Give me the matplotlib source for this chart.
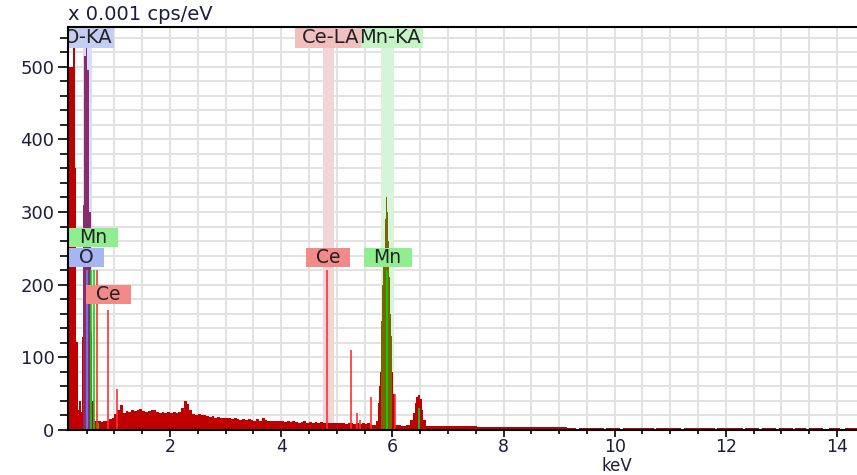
import numpy as np
import matplotlib
matplotlib.use("Agg")
import matplotlib.pyplot as plt
from matplotlib.ticker import MultipleLocator
from matplotlib.patches import Rectangle, Polygon

# spectrum, x 0.001 cps/eV, bins given by left edge in keV
low_kev = [0.17, 0.23, 0.25, 0.29, 0.31, 0.34, 0.37, 0.39, 0.41, 0.44, 0.46,
           0.49, 0.51, 0.55, 0.57, 0.60, 0.63]
low_counts = [500, 500, 700, 360, 121, 28, 40, 25, 128, 310, 515,
              700, 495, 300, 135, 40, 15]

bg_start, bg_step = 0.65, 0.05
bg_counts = [12, 12, 11, 12, 13, 15, 16, 22, 28, 34, 24, 26, 25, 27, 26, 28,
             29, 26, 25, 26, 28, 27, 25, 24, 25, 24, 25, 24, 25, 24, 25, 30,
             40, 36, 27, 22, 21, 22, 20, 21, 19, 18, 19, 17, 18, 17, 16, 17,
             16, 15, 16, 15, 14, 15, 14, 15, 14, 13, 15, 13, 17, 14, 13, 12,
             13, 12, 13, 12, 11, 12, 11, 12, 11, 10, 11, 12, 10, 11, 10, 11,
             10, 11, 10, 9, 9, 10, 9, 9, 10, 9, 8, 9, 9, 8, 9, 8,
             9, 8, 9, 7, 7]

mn_kev = [5.70, 5.74, 5.76, 5.78, 5.80, 5.82, 5.84, 5.86, 5.88, 5.90, 5.92,
          5.94, 5.96, 5.98, 6.00, 6.02, 6.05, 6.15, 6.25, 6.32, 6.37, 6.40,
          6.43, 6.46, 6.50, 6.53, 6.56, 6.60]
mn_counts = [12, 37, 60, 80, 150, 200, 250, 290, 320, 300, 260,
             210, 160, 130, 80, 50, 7, 6, 7, 14, 23, 37,
             46, 48, 43, 27, 14, 6]

tail_kev = [6.65, 6.80, 6.90, 7.00, 7.10, 7.20, 7.30, 7.40, 7.52, 7.70, 7.90,
            8.10, 8.30, 8.50, 8.70, 8.90, 9.14, 9.30, 9.35, 9.60, 9.80, 9.85,
            10.10, 10.15, 10.45, 10.70, 10.75, 11.00, 11.20, 11.25, 11.55,
            11.80, 11.85, 12.13, 12.30, 12.35, 12.60, 12.65, 12.90, 12.95,
            13.20, 13.25, 13.45, 13.50, 13.75, 13.85, 14.05, 14.15]
tail_counts = [6, 5, 6, 5, 6, 5, 6, 5, 3.5, 3.5, 4,
               3.5, 3.5, 4, 3.5, 3.5, 3, 0, 3, 3, 0, 3,
               0, 3, 3, 0, 3, 3, 0, 3, 3,
               0, 3, 2.5, 0, 2.5, 0, 2.5, 0, 2.5,
               0, 2.5, 0, 2.5, 0, 2.5, 0, 2.5]
kev_end = 14.4

# element marker lines (keV, height)
o_lines = [(0.50, 220)]
mn_lines = [(0.58, 220), (0.63, 220), (0.705, 9), (5.90, 220), (6.48, 30)]
ce_lines = [(0.69, 220), (0.885, 165), (1.05, 56), (4.83, 220), (5.25, 110),
            (5.37, 23), (5.41, 14), (5.61, 46), (6.05, 50)]

# peak labels: text, keV, counts, box width keV, colour
labels = [("Mn", 0.625, 265, 0.88, "#8fee8f"),
          ("O", 0.50, 238, 0.63, "#a6b6f2"),
          ("Ce", 0.895, 186, 0.81, "#f28a8a"),
          ("Ce", 4.84, 237, 0.79, "#f28a8a"),
          ("Mn", 5.915, 237, 0.86, "#8fee8f")]
# line family labels at the top: text, box span keV, band span keV, colours
top_labels = [("O-KA", (-0.07, 0.99), (0.44, 0.60), "#c4cdf2", "#d6ddf4"),
              ("Ce-LA", (4.25, 5.435), (4.75, 4.95), "#f2bfbf", "#f2d6d6"),
              ("Mn-KA", (5.435, 6.55), (5.79, 6.03), "#c6f4c6", "#d8f4d8")]

kev = np.array(low_kev + list(bg_start + bg_step * np.arange(len(bg_counts)))
               + mn_kev + tail_kev)
counts = np.array(low_counts + bg_counts + mn_counts + tail_counts, float)
edges = np.append(kev, kev_end)

plt.rcParams['font.family'] = ['DejaVu Sans']
txt = "#1c1c3c"

fig = plt.figure(figsize=(8.57, 4.75), dpi=100)
ax = fig.add_axes([68.3 / 857, 45 / 475, 1 - 68.3 / 857, (430 - 26.7) / 475])
ax.set_xlim(0.17, 14.36)
ax.set_ylim(0, 555)

ax.xaxis.set_major_locator(MultipleLocator(2))
ax.xaxis.set_minor_locator(MultipleLocator(0.5))
ax.yaxis.set_major_locator(MultipleLocator(100))
ax.yaxis.set_minor_locator(MultipleLocator(20))
ax.set_axisbelow(True)
ax.grid(which="both", color="#e2e2e2", lw=1.4)

for name, box, span, boxc, bandc in top_labels:
    ax.axvspan(span[0], span[1], color=bandc, lw=0, zorder=1)


def step_fill(e, c, col, z):
    xs = np.repeat(e, 2)
    ys = np.concatenate([[0], np.repeat(c, 2), [0]])
    ax.add_patch(Polygon(np.column_stack([xs, ys]), closed=True, fc=col,
                         ec="none", lw=0, zorder=z))


# spectrum
step_fill(edges, counts, "#c00000", 2)
for lo, hi, col in [(0.44, 0.57, "#8a2c6c"), (5.80, 6.00, "#766800")]:
    idx = np.where((kev >= lo) & (kev < hi))[0]
    step_fill(edges[idx[0]:idx[-1] + 2], counts[idx], col, 3)

for lines, col in [(o_lines, "#7080ff"), (mn_lines, "#00dd00"),
                   (ce_lines, "#ff3030")]:
    for x, h in lines:
        ax.vlines(x, 0, h, color=col, lw=1.2, zorder=4)

for name, box, span, boxc, bandc in top_labels:
    ax.add_patch(Rectangle((box[0], 526), box[1] - box[0], 27, fc=boxc,
                           ec="none", zorder=5, clip_on=True))
    ax.text(box[1] - 0.03, 539.5, name, ha="right", va="center", fontsize=14,
            color="#222", zorder=6, clip_on=True)

for name, xc, yc, w, col in labels:
    ax.add_patch(Rectangle((xc - w / 2, yc - 13), w, 26, fc=col, ec="none",
                           zorder=5, clip_on=True))
    ax.text(xc, yc, name, ha="center", va="center", fontsize=13.5,
            color="#222", zorder=6, clip_on=True)

for s in ["top", "left", "bottom"]:
    ax.spines[s].set_color("black")
    ax.spines[s].set_linewidth(1.5)
    ax.spines[s].set_zorder(7)
ax.spines["right"].set_visible(False)

ax.tick_params(axis="both", which="both", direction="out", colors="black",
               labelcolor=txt, labelsize=13, width=1.2)
ax.tick_params(axis="y", which="major", length=7, pad=3)
ax.tick_params(axis="y", which="minor", length=6)
ax.tick_params(axis="x", which="major", length=5, pad=0.5, labelsize=12.5)
ax.tick_params(axis="x", which="minor", length=3)
ax.tick_params(top=False, right=False)

fig.text(68 / 857, 1 - 14 / 475, "x 0.001 cps/eV", ha="left", va="center",
         fontsize=14, color=txt)
fig.text(617 / 857, 4 / 475, "keV", ha="center", va="baseline",
         fontsize=12, color=txt)

fig.savefig("out.png", dpi=100)
